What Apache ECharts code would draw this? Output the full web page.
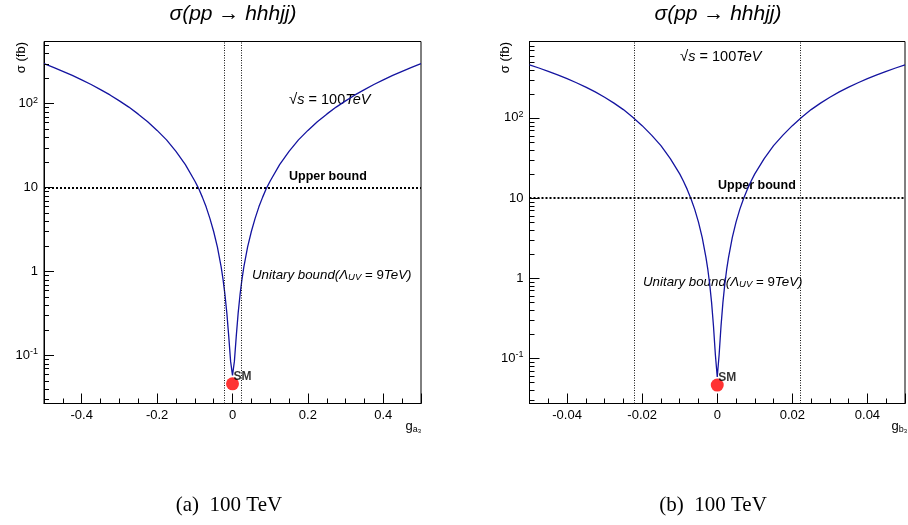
<!DOCTYPE html>
<html><head><meta charset="utf-8">
<script src="https://cdn.jsdelivr.net/npm/echarts@6/dist/echarts.min.js"></script>
<style>html,body{margin:0;padding:0;background:#fff}#c{width:908px;height:525px}</style>
</head><body><div id="c"></div>
<script>
// ---- data ----
const gA = [-0.5,-0.475,-0.45,-0.425,-0.4,-0.375,-0.35,-0.325,-0.3,-0.275,-0.25,-0.225,-0.2,-0.175,-0.15,-0.125,-0.1,-0.09,-0.08,-0.07,-0.06,-0.05,-0.04,-0.03,-0.025,-0.02,-0.015,-0.01,-0.005,0,
  0.005,0.01,0.015,0.02,0.025,0.03,0.04,0.05,0.06,0.07,0.08,0.09,0.1,0.125,0.15,0.175,0.2,0.225,0.25,0.275,0.3,0.325,0.35,0.375,0.4,0.425,0.45,0.475,0.5];
const sigmaA = [300,271,243,217,192,169,147,127,108,91,75,61,48,37,27,18.8,12.0,9.8,7.7,5.9,4.3,3.0,1.95,1.13,0.80,0.53,0.32,0.17,0.085,0.058,
  0.085,0.17,0.32,0.53,0.80,1.13,1.95,3.0,4.3,5.9,7.7,9.8,12.0,18.8,27,37,48,61,75,91,108,127,147,169,192,217,243,271,300];
const gB = [-0.05,-0.0475,-0.045,-0.0425,-0.04,-0.0375,-0.035,-0.0325,-0.03,-0.0275,-0.025,-0.0225,-0.02,-0.0175,-0.015,-0.0125,-0.01,-0.009,-0.008,-0.007,-0.006,-0.005,-0.004,-0.003,-0.0025,-0.002,-0.0015,-0.001,-0.0005,0,
  0.0005,0.001,0.0015,0.002,0.0025,0.003,0.004,0.005,0.006,0.007,0.008,0.009,0.01,0.0125,0.015,0.0175,0.02,0.0225,0.025,0.0275,0.03,0.0325,0.035,0.0375,0.04,0.0425,0.045,0.0475,0.05];
const sigmaB = [460,420,382,345,309,275,242,211,181,153,127,102,80,61,45,31,20,16.2,12.8,9.8,7.2,5.0,3.2,1.8,1.27,0.83,0.49,0.25,0.11,0.058,
  0.11,0.25,0.49,0.83,1.27,1.8,3.2,5.0,7.2,9.8,12.8,16.2,20,31,45,61,80,102,127,153,181,211,242,275,309,345,382,420,460];
const smPoint = [0, 0.046];
const upperBound = 10;
const unitaryBoundA = 0.022;
const unitaryBoundB = 0.022;
const xRangeA = [-0.5, 0.5], xStepA = 0.2;
const xRangeB = [-0.05, 0.05], xStepB = 0.02;
const yRangeA = [0.0268, 550];
const yRangeB = [0.0271, 900];
const decades = [0.01, 0.1, 1, 10, 100];
const titleText = 'σ(pp → hhhjj)';
const captions = ['(a)  100 TeV', '(b)  100 TeV'];

// ---- chart ----
const FONT = '"Liberation Sans", Arial, Helvetica, sans-serif';
const chart = echarts.init(document.getElementById('c'), null, {renderer: 'canvas'});

function pairs(xs, ys) { return xs.map((x, i) => [x, ys[i]]); }
function minorVals(range) {
  const out = [];
  decades.forEach(d => { for (let k = 2; k <= 9; k++) { const v = k * d; if (v > range[0] && v < range[1]) out.push(v); } });
  return out;
}
function xAxisDef(gi, range, step) {
  return {
    type: 'value', gridIndex: gi, min: range[0], max: range[1], splitNumber: 5,
    axisLine: {show: true, onZero: false, lineStyle: {color: '#000', width: 1}},
    axisTick: {show: true, inside: true, length: 10, lineStyle: {color: '#000'}},
    minorTick: {show: true, splitNumber: 4, length: 5, lineStyle: {color: '#000'}},
    splitLine: {show: false},
    axisLabel: {
      color: '#000', fontFamily: FONT, fontSize: 13, margin: 5,
      formatter: v => { const r = v / step; return Math.abs(r - Math.round(r)) < 1e-6 ? String(+Number(v).toFixed(4)) : ''; }
    }
  };
}
function yAxisDef(gi, range) {
  return {
    type: 'log', logBase: 10, gridIndex: gi, min: range[0], max: range[1],
    axisLine: {show: true, onZero: false, lineStyle: {color: '#000', width: 1}},
    axisTick: {show: true, inside: true, length: 10, lineStyle: {color: '#000'}},
    minorTick: {show: false},
    splitLine: {show: false},
    axisLabel: {
      color: '#000', fontFamily: FONT, fontSize: 13, margin: 6,
      formatter: v => {
        const l = Math.log10(v), e = Math.round(l);
        if (Math.abs(l - e) > 1e-6) return '';
        if (e === 0) return '1';
        if (e === 1) return '10';
        return '{b|10}{s|' + e + '}';
      },
      rich: {
        b: {fontFamily: FONT, fontSize: 13, color: '#000', lineHeight: 16},
        s: {fontFamily: FONT, fontSize: 9, color: '#000', lineHeight: 10, verticalAlign: 'top'}
      }
    }
  };
}
function curveSeries(gi, xs, ys, bound) {
  return {
    type: 'line', xAxisIndex: gi, yAxisIndex: gi, data: pairs(xs, ys), showSymbol: false, symbol: 'none',
    lineStyle: {color: '#1414a0', width: 1.3}, clip: true, silent: true, z: 3,
    markLine: {
      silent: true, symbol: ['none', 'none'], label: {show: false}, animation: false, precision: 6,
      data: [
        {yAxis: upperBound, lineStyle: {type: 'dotted', width: 2, color: '#000'}},
        {xAxis: -bound, lineStyle: {type: [1, 1.5], width: 1, color: '#111'}},
        {xAxis: bound, lineStyle: {type: [1, 1.5], width: 1, color: '#111'}}
      ]
    }
  };
}
function smSeries(gi) {
  return {
    type: 'scatter', xAxisIndex: gi, yAxisIndex: gi, data: [smPoint], symbolSize: 13, z: 5,
    itemStyle: {color: '#ff0000'}, silent: true,
    label: {show: true, formatter: 'SM', position: [7.5, -7], fontFamily: FONT, fontWeight: 'bold', fontSize: 12, color: '#000'}
  };
}
function minorTickSeries(gi, range) {
  return {
    type: 'custom', xAxisIndex: gi, yAxisIndex: gi, data: minorVals(range).map(v => [0, v]), silent: true,
    encode: {x: 0, y: 1}, clip: false, z: 4,
    renderItem: (params, api) => {
      const cs = params.coordSys;
      const y = Math.round(api.coord([0, api.value(1)])[1]) + 0.5;
      return {type: 'line', shape: {x1: cs.x, y1: y, x2: cs.x + 5, y2: y}, style: {stroke: '#000', lineWidth: 1}};
    }
  };
}

const annRich = {
  n: {fontFamily: FONT, fontSize: 13.3, color: '#000', lineHeight: 15},
  i: {fontFamily: FONT, fontSize: 13.3, fontStyle: 'italic', color: '#000', lineHeight: 15},
  n2: {fontFamily: FONT, fontSize: 14.5, color: '#000', lineHeight: 16},
  i2: {fontFamily: FONT, fontSize: 14.5, fontStyle: 'italic', color: '#000', lineHeight: 16},
  u: {fontFamily: FONT, fontSize: 9.5, fontStyle: 'italic', color: '#000', lineHeight: 8, verticalAlign: 'bottom'},
  sq: {fontFamily: FONT, fontSize: 15, color: '#000', lineHeight: 16},
  bold: {fontFamily: FONT, fontSize: 12.5, fontWeight: 'bold', color: '#000', lineHeight: 15}
};
const sqrtText = '{sq|√}{i2|s}{n2| = 100}{i2|TeV}';
const unitText = '{i|Unitary bound(Λ}{u|UV}{n| = 9}{i|TeV)}';
const ubText = '{bold|Upper bound}';
const gRich = {
  g: {fontFamily: FONT, fontSize: 13, color: '#000', lineHeight: 16},
  s: {fontFamily: FONT, fontSize: 9, color: '#000', lineHeight: 8, verticalAlign: 'bottom'},
  ss: {fontFamily: FONT, fontSize: 6, color: '#000', lineHeight: 4, verticalAlign: 'bottom'}
};

function annot(x, y, text) {
  return {type: 'text', x: x, y: y, silent: true, style: {text: text, rich: annRich, align: 'left', verticalAlign: 'middle'}};
}

const option = {
  backgroundColor: '#fff',
  animation: false,
  grid: [
    {left: 44, top: 41.5, width: 377, height: 362, show: true, borderColor: '#000', borderWidth: 1, backgroundColor: 'transparent'},
    {left: 529.5, top: 41.5, width: 376.5, height: 362, show: true, borderColor: '#000', borderWidth: 1, backgroundColor: 'transparent'}
  ],
  xAxis: [xAxisDef(0, xRangeA, xStepA), xAxisDef(1, xRangeB, xStepB)],
  yAxis: [yAxisDef(0, yRangeA), yAxisDef(1, yRangeB)],
  series: [
    curveSeries(0, gA, sigmaA, unitaryBoundA),
    curveSeries(1, gB, sigmaB, unitaryBoundB),
    smSeries(0), smSeries(1),
    minorTickSeries(0, yRangeA), minorTickSeries(1, yRangeB)
  ],
  graphic: [
    {type: 'text', x: 233, y: 14, silent: true, style: {text: titleText, font: 'italic 21px ' + FONT, fill: '#000', align: 'center', verticalAlign: 'middle'}},
    {type: 'text', x: 718, y: 14, silent: true, style: {text: titleText, font: 'italic 21px ' + FONT, fill: '#000', align: 'center', verticalAlign: 'middle'}},
    {type: 'text', x: 229, y: 505, silent: true, style: {text: captions[0], font: '21px "Liberation Serif", "Times New Roman", serif', fill: '#000', align: 'center', verticalAlign: 'middle'}},
    {type: 'text', x: 713, y: 505, silent: true, style: {text: captions[1], font: '21px "Liberation Serif", "Times New Roman", serif', fill: '#000', align: 'center', verticalAlign: 'middle'}},
    {type: 'text', x: 21, y: 42, rotation: Math.PI / 2, silent: true, style: {text: 'σ (fb)', font: '13px ' + FONT, fill: '#000', align: 'right', verticalAlign: 'middle'}},
    {type: 'text', x: 505, y: 42, rotation: Math.PI / 2, silent: true, style: {text: 'σ (fb)', font: '13px ' + FONT, fill: '#000', align: 'right', verticalAlign: 'middle'}},
    {type: 'text', x: 421, y: 426, silent: true, style: {text: '{g|g}{s|a}{ss|3}', rich: gRich, align: 'right', verticalAlign: 'middle'}},
    {type: 'text', x: 907, y: 426, silent: true, style: {text: '{g|g}{s|b}{ss|3}', rich: gRich, align: 'right', verticalAlign: 'middle'}},
    annot(289, 100, sqrtText),
    annot(289, 177, ubText),
    annot(252, 275, unitText),
    annot(680, 57, sqrtText),
    annot(718, 186, ubText),
    annot(643, 282, unitText)
  ]
};
chart.setOption(option);
</script>
</body></html>
